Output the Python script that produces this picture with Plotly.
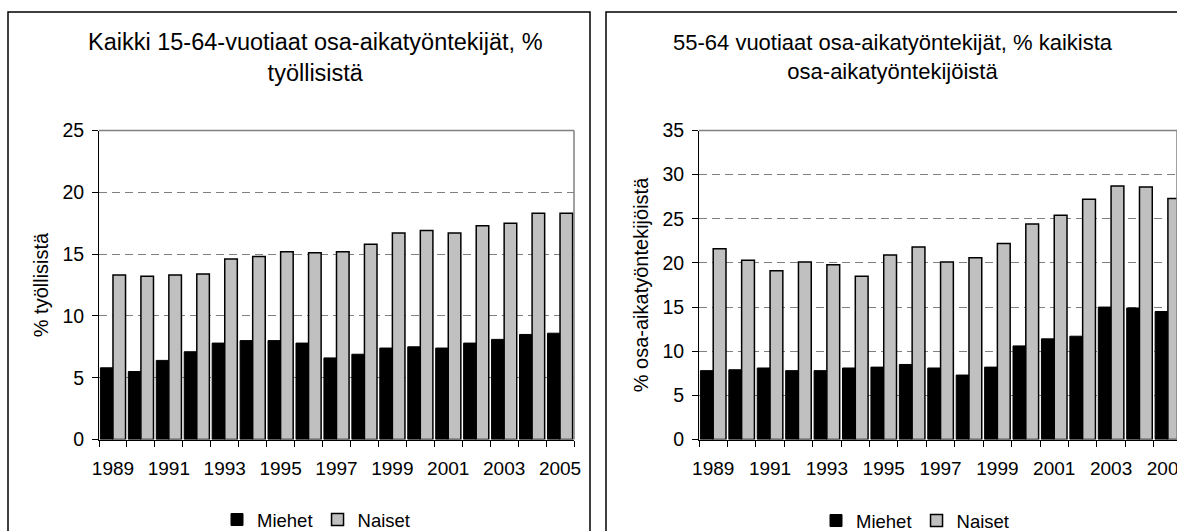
import plotly.graph_objects as go

years = list(range(1989, 2006))
tick_years = [1989, 1991, 1993, 1995, 1997, 1999, 2001, 2003, 2005]

# Left panel: all 15-64 part-time workers, % of employed
left_miehet = [5.8, 5.5, 6.4, 7.1, 7.8, 8.0, 8.0, 7.8, 6.6, 6.9, 7.4, 7.5, 7.4, 7.8, 8.1, 8.5, 8.6]
left_naiset = [13.3, 13.2, 13.3, 13.4, 14.6, 14.8, 15.2, 15.1, 15.2, 15.8, 16.7, 16.9, 16.7, 17.3, 17.5, 18.3, 18.3]

# Right panel: 55-64 part-time workers, % of all part-time workers
right_miehet = [7.8, 7.9, 8.1, 7.8, 7.8, 8.1, 8.2, 8.5, 8.1, 7.3, 8.2, 10.6, 11.4, 11.7, 15.0, 14.9, 14.5]
right_naiset = [21.6, 20.3, 19.1, 20.1, 19.8, 18.5, 20.9, 21.8, 20.1, 20.6, 22.2, 24.4, 25.4, 27.2, 28.7, 28.6, 27.3]

left_title = "Kaikki 15-64-vuotiaat osa-aikatyöntekijät, %<br>työllisistä"
right_title = "55-64 vuotiaat osa-aikatyöntekijät, % kaikista<br>osa-aikatyöntekijöistä"
left_ytitle = "% työllisistä"
right_ytitle = "% osa-aikatyöntekijöistä"

W, H = 1177, 531
FONT = "Liberation Sans, Arial, sans-serif"

fig = go.Figure()
fig.add_trace(go.Bar(x=years, y=left_miehet, name="Miehet", marker=dict(color="black", line=dict(color="black", width=1)),
                     xaxis="x", yaxis="y", legend="legend"))
fig.add_trace(go.Bar(x=years, y=left_naiset, name="Naiset", marker=dict(color="#c0c0c0", line=dict(color="black", width=1.5)),
                     xaxis="x", yaxis="y", legend="legend"))
fig.add_trace(go.Bar(x=years, y=right_miehet, name="Miehet", marker=dict(color="black", line=dict(color="black", width=1)),
                     xaxis="x2", yaxis="y2", legend="legend2"))
fig.add_trace(go.Bar(x=years, y=right_naiset, name="Naiset", marker=dict(color="#c0c0c0", line=dict(color="black", width=1.5)),
                     xaxis="x2", yaxis="y2", legend="legend2"))

def yd(top_px, bot_px):
    return [1 - bot_px / H, 1 - top_px / H]

ydom = yd(130.5, 439.5)
boundaries = [y + 0.5 for y in [1988] + years]

xcommon = dict(tickmode="array", tickvals=tick_years, ticktext=[str(t) for t in tick_years],
               ticks="", showline=True, linecolor="black", linewidth=1, showgrid=False, zeroline=False,
               ticklabelstandoff=12, ticklabeloverflow="allow", automargin=False,
               tickfont=dict(size=19, color="black", family=FONT),
               minor=dict(tickmode="array", tickvals=boundaries, ticks="outside", ticklen=6,
                          tickcolor="black", tickwidth=1, showgrid=False))
ycommon = dict(showline=True, linecolor="black", linewidth=1, ticks="outside", ticklen=6, tickcolor="black",
               showgrid=True, gridcolor="#808080", griddash="8px,5px", gridwidth=1.3, zeroline=False,
               ticklabelstandoff=4, automargin=False,
               tickfont=dict(size=19.5, color="black", family=FONT))

fig.update_layout(
    width=W, height=H, margin=dict(l=0, r=0, t=0, b=0, autoexpand=False),
    paper_bgcolor="white", plot_bgcolor="white",
    font=dict(family=FONT, color="black", size=19),
    barmode="group", bargap=0.1, bargroupgap=0,
    showlegend=True,
    xaxis=dict(domain=[99 / W, 574 / W], range=[1988.5, 2005.5], anchor="y", **xcommon),
    yaxis=dict(domain=ydom, range=[0, 25], dtick=5, anchor="x",
               title=dict(text=left_ytitle, font=dict(size=20, family=FONT), standoff=8), **ycommon),
    xaxis2=dict(domain=[699 / W, 1.0], range=[1988.5, 2005.32], anchor="y2", **xcommon),
    yaxis2=dict(domain=ydom, range=[0, 35], dtick=5, anchor="x2",
                title=dict(text=right_ytitle, font=dict(size=20, family=FONT), standoff=8), **ycommon),
    legend=dict(orientation="h", x=316 / W, xanchor="center", y=1 - 520 / H, yanchor="middle",
                font=dict(size=18.5, family=FONT), itemwidth=30, traceorder="normal", bgcolor="rgba(0,0,0,0)"),
    legend2=dict(orientation="h", x=915 / W, xanchor="center", y=1 - 521 / H, yanchor="middle",
                 font=dict(size=18.5, family=FONT), itemwidth=30, traceorder="normal", bgcolor="rgba(0,0,0,0)"),
)

# panel boxes
fig.add_shape(type="rect", xref="paper", yref="paper", x0=8 / W, x1=590 / W, y0=-0.01, y1=1 - 12 / H,
              line=dict(color="black", width=1.5), fillcolor="rgba(0,0,0,0)", layer="below")
fig.add_shape(type="rect", xref="paper", yref="paper", x0=606 / W, x1=1.01, y0=-0.01, y1=1 - 12 / H,
              line=dict(color="black", width=1.5), fillcolor="rgba(0,0,0,0)", layer="below")
# plot-area borders (top and right, gray)
for xr, yr in [("x domain", "y domain"), ("x2 domain", "y2 domain")]:
    fig.add_shape(type="line", xref=xr, yref=yr, x0=0, x1=1, y0=1, y1=1, line=dict(color="#808080", width=1.5))
    fig.add_shape(type="line", xref=xr, yref=yr, x0=1, x1=1, y0=0, y1=1, line=dict(color="#808080", width=1.5))

# titles
fig.add_annotation(text=left_title, xref="paper", yref="paper", x=315 / W, y=1 - 57 / H, showarrow=False,
                   font=dict(size=23.5, family=FONT), align="center", xanchor="center", yanchor="middle")
fig.add_annotation(text=right_title, xref="paper", yref="paper", x=893 / W, y=1 - 57 / H, showarrow=False,
                   font=dict(size=22, family=FONT), align="center", xanchor="center", yanchor="middle")

fig.write_html("out.html", config={"displayModeBar": False},
               post_script="document.body.style.margin='0';document.body.style.overflow='hidden';")
